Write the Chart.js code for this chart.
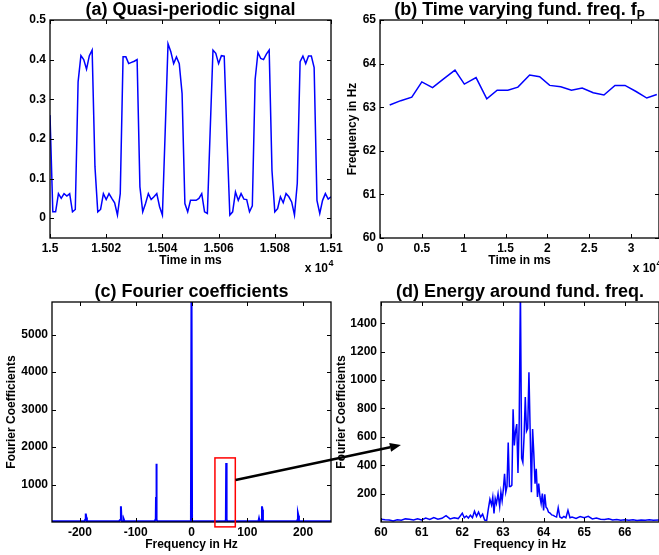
<!DOCTYPE html>
<html><head><meta charset="utf-8">
<script src="https://cdn.jsdelivr.net/npm/chart.js@4.4.1/dist/chart.umd.min.js"></script>
<style>
html,body{margin:0;padding:0;background:#fff;}
#wrap{position:relative;width:659px;height:555px;overflow:hidden;background:#fff;}
canvas{position:absolute;left:0;top:0;}
</style></head><body>
<div id="wrap">
<canvas id="ca" width="659" height="555"></canvas>
<canvas id="cb" width="659" height="555"></canvas>
<canvas id="cc" width="659" height="555"></canvas>
<canvas id="cd" width="659" height="555"></canvas>
<canvas id="ov" width="659" height="555"></canvas>
</div>
<script>
// ---------- (a) Quasi-periodic signal ----------
const timeA = [15000,15001,15002,15003,15004,15005,15006,15007,15008,15009,15010,15011,15012,15013,15014,15015,15016,15017,15018,15019,15020,15021,15022,15023,15024,15025,15026,15027,15028,15029,15030,15031,15032,15033,15034,15035,15036,15037,15038,15039,15040,15041,15042,15043,15044,15045,15046,15047,15048,15049,15050,15051,15052,15053,15054,15055,15056,15057,15058,15059,15060,15061,15062,15063,15064,15065,15066,15067,15068,15069,15070,15071,15072,15073,15074,15075,15076,15077,15078,15079,15080,15081,15082,15083,15084,15085,15086,15087,15088,15089,15090,15091,15092,15093,15094,15095,15096,15097,15098,15099,15100];
const signalA = [0.26,0.016,0.016,0.062,0.05,0.062,0.056,0.062,0.016,0.022,
 0.344,0.41,0.40,0.376,0.41,0.424,0.13,0.016,0.022,0.062,
 0.047,0.062,0.05,0.039,0.008,0.062,0.407,0.407,0.39,0.393,
 0.396,0.40,0.079,0.016,0.037,0.062,0.047,0.054,0.062,0.029,
 0.008,0.22,0.44,0.42,0.39,0.407,0.39,0.315,0.037,0.016,
 0.045,0.045,0.045,0.05,0.062,0.016,0.012,0.22,0.424,0.416,
 0.39,0.41,0.409,0.2,0.008,0.016,0.066,0.045,0.062,0.048,
 0.047,0.016,0.031,0.35,0.418,0.403,0.40,0.414,0.424,0.12,
 0.016,0.024,0.054,0.039,0.062,0.054,0.041,0.008,0.088,0.395,
 0.409,0.39,0.409,0.409,0.38,0.045,0.012,0.045,0.062,0.048,0.054];
const xTicksA = [15000,15020,15040,15060,15080,15100];
const xLabelsA = ['1.5','1.502','1.504','1.506','1.508','1.51'];
const yTicksA = [0,0.1,0.2,0.3,0.4,0.5];
const yLabelsA = ['0','0.1','0.2','0.3','0.4','0.5'];

// ---------- (b) Time varying fundamental frequency ----------
const timeB = [1160,2480,3800,5000,6280,7600,8960,10080,11480,12760,14000,15280,16480,17880,19080,20280,21600,22880,24160,25480,26760,28080,29280,30600,31880,33080];
const freqB = [63.05,63.15,63.23,63.58,63.45,63.65,63.85,63.53,63.68,63.19,63.39,63.39,63.46,63.74,63.70,63.50,63.47,63.39,63.44,63.33,63.28,63.50,63.50,63.36,63.21,63.29];
const xTicksB = [0,5000,10000,15000,20000,25000,30000];
const xLabelsB = ['0','0.5','1','1.5','2','2.5','3'];
const yTicksB = [60,61,62,63,64,65];
const yLabelsB = ['60','61','62','63','64','65'];

// ---------- (c) Fourier coefficients ----------
const freqC = [-250,-192,-190.5,-189.5,-188.5,-187.5,-130,-127.5,-126.5,-125.8,-125.2,-124.5,-122,-121,-120,-66,-64,-63.6,-63.3,-62.8,-62.4,-62,-61,-1,0,1,60,61,61.6,62.2,62.6,63.2,64,120,121,122,125.5,126.3,127.2,128,129,189,190,190.8,191.6,192.5,250];
const coefC = [20,20,60,224,120,20,20,60,418,180,60,20,20,60,20,20,80,667,300,1557,200,60,20,20,6500,20,20,40,90,1573,200,60,20,20,90,20,20,418,330,60,20,20,60,224,170,20,20];
const xTicksC = [-200,-100,0,100,200];
const xLabelsC = ['-200','-100','0','100','200'];
const yTicksC = [1000,2000,3000,4000,5000];
const yLabelsC = ['1000','2000','3000','4000','5000'];
// zoom box (Hz, coefficient) and arrow ends
const zoomBoxC = {x0:42, x1:78.5, y0:-130, y1:1710};
const arrowStartC = {x:79, y:1120};
const arrowEndD = {x:60.49, y:542};

// ---------- (d) Energy around fundamental frequency ----------
const freqD = [60.0,60.1,60.2,60.3,60.4,60.5,60.6,60.7,60.8,60.9,61.0,61.1,61.2,61.3,61.4,61.5,61.6,61.7,61.8,61.9,62.0,62.05,62.1,62.15,62.2,62.25,62.3,62.35,62.4,62.45,62.5,62.55,62.6,62.64,62.68,62.72,62.75,62.78,62.81,62.84,62.88,62.92,62.95,62.98,63.01,63.04,63.07,63.1,63.13,63.16,63.19,63.22,63.25,63.28,63.31,63.34,63.37,63.4,63.43,63.46,63.49,63.52,63.55,63.58,63.61,63.64,63.67,63.7,63.73,63.76,63.79,63.82,63.85,63.88,63.91,63.94,63.97,64.0,64.03,64.06,64.09,64.12,64.16,64.2,64.24,64.28,64.32,64.36,64.4,64.45,64.5,64.55,64.6,64.65,64.7,64.8,64.9,65.0,65.1,65.2,65.3,65.4,65.5,65.6,65.7,65.8,65.9,66.0,66.1,66.2,66.3,66.4,66.5,66.6,66.7,66.84];
const coefD = [20,16,14,8,16,12,22,20,15,22,14,28,18,32,20,26,45,22,30,24,62,30,42,28,48,30,76,40,70,35,55,14,12,90,160,120,175,60,165,130,200,110,210,150,230,340,210,250,560,250,250,260,795,540,640,690,345,700,1650,450,420,600,880,640,660,1055,640,210,655,480,270,375,176,270,180,130,200,82,195,105,95,70,63,50,47,40,35,100,35,28,40,30,82,30,35,25,38,30,40,22,28,20,18,22,14,18,12,15,12,16,10,14,12,16,12,14];
const xTicksD = [60,61,62,63,64,65,66];
const xLabelsD = ['60','61','62','63','64','65','66'];
const yTicksD = [200,400,600,800,1000,1200,1400];
const yLabelsD = ['200','400','600','800','1000','1200','1400'];

const FONT = "'Liberation Sans', Arial, Helvetica, sans-serif";
Chart.defaults.font.family = FONT;
Chart.defaults.font.weight = 'bold';
Chart.defaults.color = '#000';

const TICK_LEN = 4;

function framePlugin(p) {
  return {
    id: 'frame_' + p.id,
    afterDraw(chart) {
      const ctx = chart.ctx, a = chart.chartArea, sx = chart.scales.x, sy = chart.scales.y;
      ctx.save();
      ctx.strokeStyle = '#000';
      ctx.lineWidth = 1.3;
      ctx.strokeRect(a.left, a.top, a.right - a.left, a.bottom - a.top);
      ctx.lineWidth = 1;
      ctx.beginPath();
      sx.ticks.forEach(t => {
        const px = Math.round(sx.getPixelForValue(t.value)) + 0.5;
        ctx.moveTo(px, a.bottom); ctx.lineTo(px, a.bottom - TICK_LEN);
        ctx.moveTo(px, a.top); ctx.lineTo(px, a.top + TICK_LEN);
      });
      sy.ticks.forEach(t => {
        const py = Math.round(sy.getPixelForValue(t.value)) + 0.5;
        ctx.moveTo(a.left, py); ctx.lineTo(a.left + TICK_LEN, py);
        ctx.moveTo(a.right, py); ctx.lineTo(a.right - TICK_LEN, py);
      });
      ctx.stroke();
      // panel title
      const cx = (a.left + a.right) / 2;
      ctx.fillStyle = '#000';
      ctx.textBaseline = 'alphabetic';
      ctx.font = 'bold 18px ' + FONT;
      if (p.titleSub) {
        const w1 = ctx.measureText(p.title).width;
        ctx.font = 'bold 12px ' + FONT;
        const w2 = ctx.measureText(p.titleSub).width;
        const x0 = cx - (w1 + w2) / 2;
        ctx.font = 'bold 18px ' + FONT;
        ctx.textAlign = 'left';
        ctx.fillText(p.title, x0, a.top - 5.5);
        ctx.font = 'bold 12px ' + FONT;
        ctx.fillText(p.titleSub, x0 + w1, a.top - 1.5);
      } else {
        ctx.textAlign = 'center';
        ctx.fillText(p.title, cx, a.top - 5.5);
      }
      // exponent note
      if (p.exp) {
        ctx.font = 'bold 12px ' + FONT;
        ctx.textAlign = 'right';
        ctx.fillText('x 10', a.right - 3, 272);
        ctx.font = 'bold 9px ' + FONT;
        ctx.textAlign = 'left';
        ctx.fillText('4', a.right - 2.5, 266);
      }
      if (p.box) {
        const b = p.box;
        const x0 = sx.getPixelForValue(b.x0), x1 = sx.getPixelForValue(b.x1);
        const y0 = sy.getPixelForValue(b.y0), y1 = sy.getPixelForValue(b.y1);
        ctx.strokeStyle = '#ff0000';
        ctx.lineWidth = 1.5;
        ctx.strokeRect(x0, y1, x1 - x0, y0 - y1);
      }
      ctx.restore();
    }
  };
}

function panel(p) {
  const pts = p.xs.map((x, i) => ({x: x, y: p.ys[i]}));
  const [L, T, R, B] = p.plot;
  return new Chart(document.getElementById(p.id), {
    type: 'line',
    data: {datasets: [{data: pts, borderColor: '#0000ff', borderWidth: p.lw || 1.5, pointRadius: 0, tension: 0, fill: false}]},
    options: {
      responsive: false, animation: false, devicePixelRatio: 1,
      layout: {padding: {left: p.yLeft, top: T, right: 659 - R, bottom: 555 - p.xBottom}},
      plugins: {legend: {display: false}, tooltip: {enabled: false}, title: {display: false}},
      scales: {
        x: {
          type: 'linear', min: p.xMin, max: p.xMax,
          grid: {display: false, drawTicks: false, tickLength: 0},
          border: {display: false},
          ticks: {font: {size: 12, weight: 'bold'}, padding: 3, autoSkip: false, maxRotation: 0, minRotation: 0,
                  callback: (v, i) => p.xLabels[i]},
          afterBuildTicks: s => { s.ticks = p.xTicks.map(v => ({value: v})); },
          afterFit: s => { s.height = p.xBottom - B; s.paddingLeft = 0; s.paddingRight = 0; },
          title: {display: true, text: p.xTitle, font: {size: 12, weight: 'bold'}, padding: {top: 0, bottom: p.xTitlePad}}
        },
        y: {
          type: 'linear', min: p.yMin, max: p.yMax,
          grid: {display: false, drawTicks: false, tickLength: 0},
          border: {display: false},
          ticks: {font: {size: 12, weight: 'bold'}, padding: 4, autoSkip: false,
                  callback: (v, i) => p.yLabels[i]},
          afterBuildTicks: s => { s.ticks = p.yTicks.map(v => ({value: v})); },
          afterFit: s => { s.width = L - p.yLeft; s.paddingTop = 0; s.paddingBottom = 0; },
          title: {display: !!p.yTitle, text: p.yTitle || '', font: {size: 12, weight: 'bold'}, padding: {top: p.yTitlePad, bottom: 0}}
        }
      }
    },
    plugins: [framePlugin(p)]
  });
}

const chartA = panel({id: 'ca', plot: [50, 20, 331, 238], yLeft: 10, xBottom: 275, xTitlePad: 7,
  xs: timeA, ys: signalA, xMin: 15000, xMax: 15100, yMin: -0.05, yMax: 0.5,
  xTicks: xTicksA, xLabels: xLabelsA, yTicks: yTicksA, yLabels: yLabelsA,
  xTitle: 'Time in ms', yTitle: null, title: '(a) Quasi-periodic signal', exp: true});

const chartB = panel({id: 'cb', plot: [380, 20, 659, 238], yLeft: 330, yTitlePad: 15, xBottom: 275, xTitlePad: 7,
  xs: timeB, ys: freqB, xMin: 0, xMax: 33340, yMin: 60, yMax: 65,
  xTicks: xTicksB, xLabels: xLabelsB, yTicks: yTicksB, yLabels: yLabelsB,
  xTitle: 'Time in ms', yTitle: 'Frequency in Hz', title: '(b) Time varying fund. freq. f', titleSub: 'P', exp: true});

const chartC = panel({id: 'cc', plot: [52, 302, 331, 522], yLeft: 0, yTitlePad: 4.5, xBottom: 555, xTitlePad: 3,
  xs: freqC, ys: coefC, xMin: -250, xMax: 250, yMin: 0, yMax: 5870, lw: 2,
  xTicks: xTicksC, xLabels: xLabelsC, yTicks: yTicksC, yLabels: yLabelsC,
  xTitle: 'Frequency in Hz', yTitle: 'Fourier Coefficients', title: '(c) Fourier coefficients', box: zoomBoxC});

const chartD = panel({id: 'cd', plot: [381, 302, 659, 522], yLeft: 330, yTitlePad: 4.3, xBottom: 555, xTitlePad: 3,
  xs: freqD, ys: coefD, xMin: 60, xMax: 66.84, yMin: 0, yMax: 1550,
  xTicks: xTicksD, xLabels: xLabelsD, yTicks: yTicksD, yLabels: yLabelsD,
  xTitle: 'Frequency in Hz', yTitle: 'Fourier Coefficients', title: '(d) Energy around fund. freq.'});

// arrow linking the zoom box in (c) to panel (d)
(function drawArrow() {
  const ctx = document.getElementById('ov').getContext('2d');
  const x0 = chartC.scales.x.getPixelForValue(arrowStartC.x);
  const y0 = chartC.scales.y.getPixelForValue(arrowStartC.y);
  const x1 = chartD.scales.x.getPixelForValue(arrowEndD.x);
  const y1 = chartD.scales.y.getPixelForValue(arrowEndD.y);
  const ang = Math.atan2(y1 - y0, x1 - x0);
  const hl = 11, hw = 4.5;
  const bx = x1 - hl * Math.cos(ang), by = y1 - hl * Math.sin(ang);
  ctx.strokeStyle = '#000'; ctx.fillStyle = '#000'; ctx.lineWidth = 2.5;
  ctx.beginPath(); ctx.moveTo(x0, y0); ctx.lineTo(bx, by); ctx.stroke();
  ctx.beginPath();
  ctx.moveTo(x1, y1);
  ctx.lineTo(bx + hw * Math.sin(ang), by - hw * Math.cos(ang));
  ctx.lineTo(bx - hw * Math.sin(ang), by + hw * Math.cos(ang));
  ctx.closePath(); ctx.fill();
})();
</script>
</body></html>
